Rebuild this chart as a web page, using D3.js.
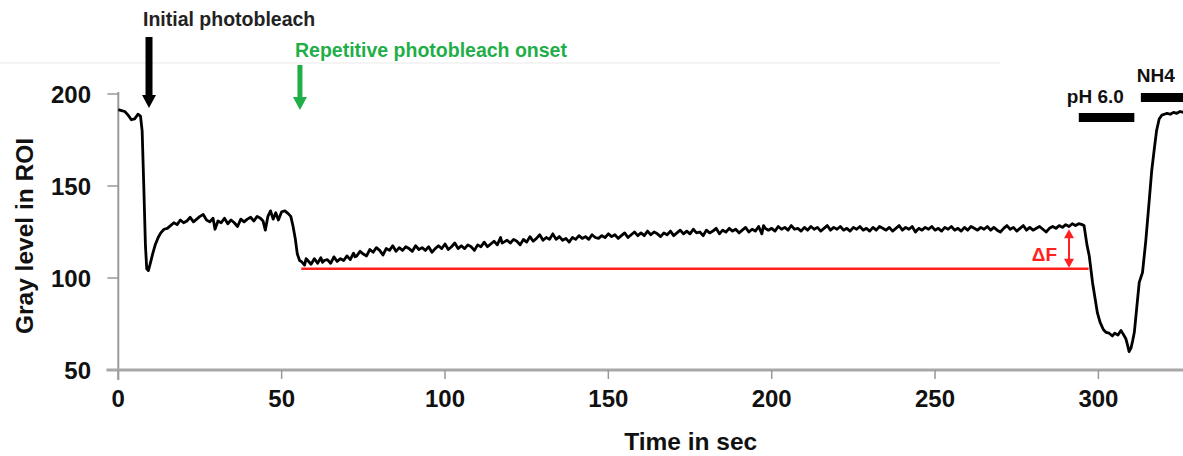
<!DOCTYPE html>
<html>
<head>
<meta charset="utf-8">
<script src="https://cdn.jsdelivr.net/npm/d3@7"></script>
<style>
  body { margin: 0; background: #fff; }
  svg text { font-family: "Liberation Sans", Arial, sans-serif; font-weight: bold; }
</style>
</head>
<body>
<svg id="chart" width="1183" height="456"></svg>
<script>
// gray level trace, [time in sec, gray level]
const trace = [
  [0,191.5],[1,191],[2,190.5],[3,188.5],[4,186],[5,186.5],[6,189],[6.8,188],[7.3,180],[7.8,150],[8.3,118],[8.7,105],[9.2,104],[9.8,108],
  [10.5,113],[11.3,118],[12.2,122],[13,124.5],[14,126.5],[15,127],[16,128.5],[17,130],[18,129],[19,131.5],[20,130],[21,131],[22,133],
  [23,130.5],[24,132],[25,133.5],[26,134.5],[27,131.5],[28,130.5],[29,132.5],[29.6,126.5],[30.5,131],[31.5,130],[32.5,132.5],[33.5,129.5],
  [34.5,131.5],[35.5,130],[36.5,128],[37.5,132],[38.5,130.5],[39.5,132],[40.5,133],[41.5,131],[42.5,133.5],[43.5,132.5],[44.3,131],[45,126],
  [45.8,133.5],[46.6,136.5],[47.4,132],[48.2,135.5],[49,131.5],[50,136],[51,136.5],[52,135],[52.8,133.5],[53.5,128],[54.2,121],[54.8,113],[55.5,109.5],
  [56,109],[57,107],[57.5,110.5],[58,109.5],[59,107.5],[60,110.5],[61,108],[62,111],[62.5,108.5],[63,109.5],[64,110],[65,108],[66,111.5],[67,109],
  [68,110.5],[69,109.5],[70,112],[71,110],[72,113.5],[72.5,111.5],[73,112],[74,114.5],[75,113],[76,112],[77,115.5],[78,114],[79,116.5],[80,115],
  [81,112.5],[82,116],[83,115],[84,117.5],[85,114.5],[86,116.5],[87,115],[88,117],[89,116],[90,114.5],[91,117.5],[92,115.5],[93,116.5],[94,115],
  [95,117],[96,114],[97,116],[98,117.5],[99,116],[100,118.5],[101,115.5],[102,117],[103,119],[104,116],[105,117.5],[106,116],[107,118],[108,117],
  [109,115],[110,118],[111,117],[112,119.5],[113,117],[114,118.5],[115,120],[116,118],[117,122],[117.5,119],[118,119.5],[119,120.5],[120,119],
  [121,121],[122,120],[123,118],[124,121],[125,119.5],[126,122.5],[127,120],[128,121.5],[129,123.5],[130,120.5],[131,122],[132,121],[133,124],
  [134,121],[135,122.5],[136,120.5],[137,121.5],[138,119.5],[139,122],[140,121],[141,123],[142,121.5],[143,122.5],[144,121],[145,123.5],
  [146,122],[147,121.5],[148,123],[149,122],[150,124],[151,122.5],[152,123.5],[153,121.5],[154,123],[155,124.5],[156,122],[157,123.5],
  [158,125],[159,123],[160,124.5],[161,123],[162,125.5],[163,123.5],[164,125],[165,124],[166,122.5],[167,124.5],[168,123.5],[169,125.5],
  [170,123],[171,124.5],[172,126],[173,124],[174,125.5],[175,124],[176,126.5],[177,124.5],[178,125],[179,123],[180,126],[181,124.5],
  [182,125.5],[183,127],[184,124],[185,126],[186,125],[187,127],[188,125.5],[189,126.5],[190,124.5],[191,126],[192,127.5],[193,125],
  [194,126.5],[195,125.5],[196,128],[197,124],[197.5,128.5],[198,127],[199,126],[200,127],[201,125.5],[202,128],[203,126.5],[204,127.5],
  [205,126],[206,128.5],[207,126.5],[208,127],[209,125.5],[210,127.5],[211,126],[212,128],[213,126.5],[214,127.5],[215,125.5],[216,127],
  [217,128.5],[218,126],[219,127.5],[220,126.5],[221,128],[222,126],[223,127],[224,125.5],[225,127.5],[226,126.5],[227,128],[228,126],
  [229,127],[230,125.5],[231,127.5],[232,126],[233,128],[234,127],[235,126],[236,127.5],[237,125.5],[238,127],[239,128.5],[240,126],
  [241,127.5],[242,126.5],[243,128],[244,125],[245,127],[246,126],[247,127.5],[248,126.5],[249,128],[250,126],[251,127],[252,125.5],
  [253,127.5],[254,126.5],[255,128],[256,126],[257,127],[258,125.5],[259,127.5],[260,126],[261,128],[262,127],[263,126],[264,127.5],
  [265,126.5],[266,128],[267,126],[268,127.5],[269,126],[270,125],[271,127],[272,128.5],[273,126.5],[274,127.5],[275,125.5],[276,127],
  [277,128.5],[278,126],[279,127.5],[280,126],[281,127],[282,128],[283,126.5],[284,125],[285,127],[286,128],[287,127],[288,128.5],
  [289,127.5],[290,129],[291,128],[292,129.5],[293,128.5],[294,129.5],[295,129],[295.6,128.5],[296.5,118],[297.2,112],[298.2,97.6],
  [299.7,81],[300.5,76],[301.5,72],[302.3,70.5],[303.3,70],[304.3,68.5],[305,70],[306,69],[306.9,71.5],[307.6,69.5],[308.4,67],[309,63],
  [309.4,60],[310,62],[310.5,66],[311,70.5],[311.8,85],[312.5,97.6],[313.5,103],[314.5,120],[315.6,143],[316.3,158],[317.1,170],[317.8,180],
  [318.6,186.4],[319.4,188.5],[320.2,189],[321,189.5],[322,189],[323,190],[324,189.5],[325,190.5],[326,190]
];

const xTicks = [0, 50, 100, 150, 200, 250, 300];
const yTicks = [50, 100, 150, 200];

// events marked with arrows (time in sec)
const bleachLabels = ['Initial photobleach', 'Repetitive photobleach onset'];
const bleachTimes = [9.4, 55.6];

// delta F: baseline level, plateau level, span of the baseline line
const deltaBase = 105;
const deltaTop = 127;
const deltaSpan = [56, 297];

// solution bars
const solutionLabels = ['pH 6.0', 'NH4'];
const solutionStart = [294, 313];
const solutionEnd = [311, 335];

const svg = d3.select('#chart');

const x = d3.scaleLinear().domain([0, 330]).range([118.3, 118.3 + 330 * 3.267]);
const y = d3.scaleLinear().domain([50, 200]).range([370, 94]);

//faint scan line at the top
svg.append('line')
  .attr('x1', 0).attr('x2', 1000)
  .attr('y1', 63).attr('y2', 63)
  .attr('stroke', '#f1f1f1').attr('stroke-width', 1.5);

//y axis
svg.append('line')
  .attr('x1', x(0)).attr('x2', x(0))
  .attr('y1', y(200) - 2).attr('y2', 380)
  .attr('stroke', '#999').attr('stroke-width', 2);
svg.selectAll('.ytick')
  .data(yTicks)
  .enter().append('line')
  .attr('class', 'ytick')
  .attr('x1', x(0) - 11).attr('x2', x(0))
  .attr('y1', d => y(d)).attr('y2', d => y(d))
  .attr('stroke', '#999').attr('stroke-width', 1.5);
svg.selectAll('.ylabel')
  .data(yTicks)
  .enter().append('text')
  .attr('class', 'ylabel')
  .attr('x', 91)
  .attr('y', d => y(d) + 9)
  .attr('text-anchor', 'end')
  .attr('font-size', 24)
  .attr('fill', '#111')
  .text(d => d);

//x axis
svg.append('line')
  .attr('x1', 106.5).attr('x2', 1183)
  .attr('y1', y(50)).attr('y2', y(50))
  .attr('stroke', '#a8a8a8').attr('stroke-width', 3);
svg.selectAll('.xtick')
  .data(xTicks)
  .enter().append('line')
  .attr('class', 'xtick')
  .attr('x1', d => x(d)).attr('x2', d => x(d))
  .attr('y1', y(50)).attr('y2', y(50) + 9)
  .attr('stroke', '#999').attr('stroke-width', 1.5);
svg.selectAll('.xlabel')
  .data(xTicks)
  .enter().append('text')
  .attr('class', 'xlabel')
  .attr('x', d => x(d))
  .attr('y', 407)
  .attr('text-anchor', 'middle')
  .attr('font-size', 24)
  .attr('fill', '#111')
  .text(d => d);

//axis titles
svg.append('text')
  .attr('x', (x(0) + 1183) / 2 + 40)
  .attr('y', 450)
  .attr('text-anchor', 'middle')
  .attr('font-size', 24.5)
  .attr('fill', '#111')
  .text('Time in sec');
svg.append('text')
  .attr('transform', 'translate(33,236) rotate(-90)')
  .attr('text-anchor', 'middle')
  .attr('font-size', 24.5)
  .attr('fill', '#111')
  .text('Gray level in ROI');

//baseline for delta F
svg.append('line')
  .attr('x1', x(deltaSpan[0])).attr('x2', x(deltaSpan[1]))
  .attr('y1', y(deltaBase)).attr('y2', y(deltaBase))
  .attr('stroke', '#ff2020').attr('stroke-width', 2.5);

//the trace
const line = d3.line()
  .x(d => x(d[0]))
  .y(d => y(d[1]));
svg.append('path')
  .datum(trace)
  .attr('d', line)
  .attr('fill', 'none')
  .attr('stroke', '#000')
  .attr('stroke-width', 2.8)
  .attr('stroke-linejoin', 'round');

//delta F double arrow
let ax = x(291);
let arrowTop = y(deltaTop) + 1, arrowBot = y(deltaBase) - 1;
svg.append('line')
  .attr('x1', ax).attr('x2', ax)
  .attr('y1', arrowTop + 6).attr('y2', arrowBot - 6)
  .attr('stroke', '#ff2020').attr('stroke-width', 2);
svg.append('path')
  .attr('d', `M${ax - 5},${arrowTop + 9}L${ax},${arrowTop}L${ax + 5},${arrowTop + 9}Z M${ax - 5},${arrowBot - 9}L${ax},${arrowBot}L${ax + 5},${arrowBot - 9}Z`)
  .attr('fill', '#ff2020');
svg.append('text')
  .attr('x', ax - 12)
  .attr('y', y(113) + 7)
  .attr('text-anchor', 'end')
  .attr('font-size', 19)
  .attr('fill', '#ff2020')
  .text('\u0394F');

//photobleach arrows and labels
let bx = x(bleachTimes[0]);
svg.append('path')
  .attr('d', `M${bx - 3.5},37V95H${bx - 7}L${bx},108L${bx + 7},95H${bx + 3.5}V37Z`)
  .attr('fill', '#000');
svg.append('text')
  .attr('x', 143)
  .attr('y', 26)
  .attr('font-size', 19.5)
  .attr('fill', '#222')
  .text(bleachLabels[0]);

let gx = x(bleachTimes[1]);
svg.append('path')
  .attr('d', `M${gx - 2.5},65V97H${gx - 7}L${gx},110L${gx + 7},97H${gx + 2.5}V65Z`)
  .attr('fill', '#1fae48');
svg.append('text')
  .attr('x', 295)
  .attr('y', 57)
  .attr('font-size', 19.5)
  .attr('fill', '#1fae48')
  .text(bleachLabels[1]);

//solution bars
const barRows = [{bar: 113, text: 103}, {bar: 93, text: 82}];
solutionLabels.forEach((lab, i) => {
  svg.append('rect')
    .attr('x', x(solutionStart[i]))
    .attr('y', barRows[i].bar)
    .attr('width', x(solutionEnd[i]) - x(solutionStart[i]))
    .attr('height', 9)
    .attr('fill', '#000');
  svg.append('text')
    .attr('x', i == 0 ? x(solutionStart[i]) - 12 : x(solutionStart[i]) - 4)
    .attr('y', barRows[i].text)
    .attr('font-size', 19)
    .attr('fill', '#111')
    .text(lab);
});
</script>
</body>
</html>
